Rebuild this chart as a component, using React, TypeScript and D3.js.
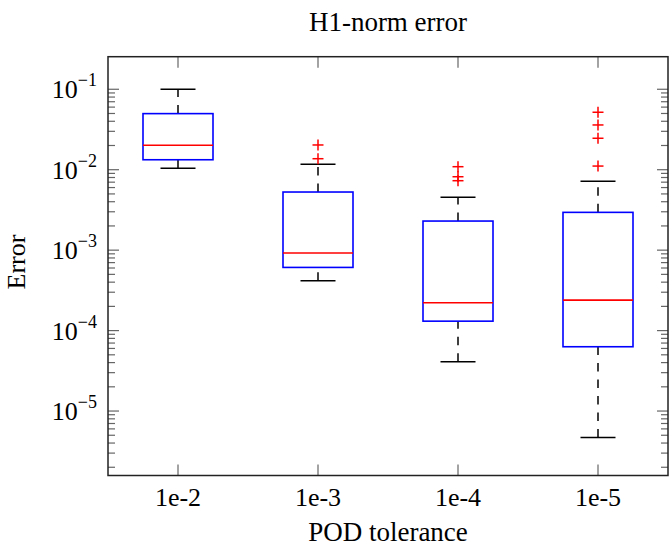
import React from 'react';
import * as d3 from 'd3';

const categories = ['1e-2', '1e-3', '1e-4', '1e-5'];
const lowerWhisker = [0.0104, 4.16e-4, 4.09e-5, 4.7e-6];
const lowerQuartile = [0.0133, 6.1e-4, 1.31e-4, 6.3e-5];
const medians = [0.0201, 9.2e-4, 2.22e-4, 2.39e-4];
const upperQuartile = [0.0498, 5.28e-3, 2.3e-3, 2.95e-3];
const upperWhisker = [0.1, 0.01167, 0.00454, 0.00718];
const outliers1e2: number[] = [];
const outliers1e3 = [0.0203, 0.0137];
const outliers1e4 = [0.0109, 0.00818, 0.0073];
const outliers1e5 = [0.0518, 0.036, 0.0246, 0.0111];
const yTickExponents = [-1, -2, -3, -4, -5];
const yDomain = [1.58e-6, 0.254];

const title = 'H1-norm error';
const xLabel = 'POD tolerance';
const yLabel = 'Error';

const W = 669;
const H = 552;
const M = { left: 108, right: 668, top: 56.7, bottom: 475.5 };
const FONT = '"Liberation Serif", "Times New Roman", serif';

export default function App() {
  const outliers = [outliers1e2, outliers1e3, outliers1e4, outliers1e5];
  const x = d3.scaleBand<string>().domain(categories).range([M.left, M.right]).padding(0);
  const y = d3.scaleLog().domain(yDomain).range([M.bottom, M.top]);
  const bw = x.bandwidth();
  const boxW = bw * 0.5;
  const capW = bw * 0.25;

  const majorTicks = yTickExponents.map((e) => Math.pow(10, e));
  const minorTicks: number[] = [];
  for (let k = -6; k <= -2; k++) {
    for (let m = 2; m <= 9; m++) {
      const v = m * Math.pow(10, k);
      if (v >= yDomain[0] && v <= yDomain[1]) minorTicks.push(v);
    }
  }

  const tickColor = '#666';
  const majorLen = 11;
  const minorLen = 7;

  return (
    <svg width={W} height={H} style={{ position: 'absolute', left: 0, top: 0, background: '#fff' }} fontFamily={FONT}>
      <rect x={0} y={0} width={W} height={H} fill="#fff" />
      {/* ticks */}
      <g stroke={tickColor} strokeWidth={1.2}>
        {minorTicks.map((v, i) => (
          <g key={'mi' + i}>
            <line x1={M.left} x2={M.left + minorLen} y1={y(v)} y2={y(v)} />
            <line x1={M.right} x2={M.right - minorLen} y1={y(v)} y2={y(v)} />
          </g>
        ))}
        {majorTicks.map((v, i) => (
          <g key={'ma' + i}>
            <line x1={M.left} x2={M.left + majorLen} y1={y(v)} y2={y(v)} />
            <line x1={M.right} x2={M.right - majorLen} y1={y(v)} y2={y(v)} />
          </g>
        ))}
        {categories.map((c) => {
          const cx = (x(c) as number) + bw / 2;
          return (
            <g key={'xt' + c}>
              <line x1={cx} x2={cx} y1={M.bottom} y2={M.bottom - majorLen} />
              <line x1={cx} x2={cx} y1={M.top} y2={M.top + majorLen} />
            </g>
          );
        })}
      </g>
      {/* boxes */}
      {categories.map((c, i) => {
        const cx = (x(c) as number) + bw / 2;
        return (
          <g key={'box' + c}>
            <line x1={cx} x2={cx} y1={y(lowerWhisker[i])} y2={y(lowerQuartile[i])} stroke="#000" strokeWidth={1.5} strokeDasharray="8.5,8" />
            <line x1={cx} x2={cx} y1={y(upperQuartile[i])} y2={y(upperWhisker[i])} stroke="#000" strokeWidth={1.5} strokeDasharray="8.5,8" />
            <line x1={cx - capW / 2} x2={cx + capW / 2} y1={y(lowerWhisker[i])} y2={y(lowerWhisker[i])} stroke="#000" strokeWidth={1.5} />
            <line x1={cx - capW / 2} x2={cx + capW / 2} y1={y(upperWhisker[i])} y2={y(upperWhisker[i])} stroke="#000" strokeWidth={1.5} />
            <rect x={cx - boxW / 2} y={y(upperQuartile[i])} width={boxW} height={y(lowerQuartile[i]) - y(upperQuartile[i])} fill="none" stroke="#0000ff" strokeWidth={1.6} />
            <line x1={cx - boxW / 2} x2={cx + boxW / 2} y1={y(medians[i])} y2={y(medians[i])} stroke="#ff0000" strokeWidth={1.6} />
            {outliers[i].map((v, j) => (
              <g key={'o' + j} stroke="#ff0000" strokeWidth={1.5}>
                <line x1={cx - 5.5} x2={cx + 5.5} y1={y(v)} y2={y(v)} />
                <line x1={cx} x2={cx} y1={y(v) - 5.5} y2={y(v) + 5.5} />
              </g>
            ))}
          </g>
        );
      })}
      {/* frame */}
      <rect x={M.left} y={M.top} width={M.right - M.left} height={M.bottom - M.top} fill="none" stroke="#222" strokeWidth={1.5} />
      {/* y tick labels */}
      {yTickExponents.map((e, i) => (
        <text key={'yl' + i} x={97} y={y(majorTicks[i]) + 9} textAnchor="end" fontSize={26} fill="#000">
          10
          <tspan fontSize={18} dy={-12}>{'\u2212' + Math.abs(e)}</tspan>
        </text>
      ))}
      {/* x tick labels */}
      {categories.map((c) => (
        <text key={'xl' + c} x={(x(c) as number) + bw / 2} y={506} textAnchor="middle" fontSize={26} fill="#000">
          {c}
        </text>
      ))}
      <text x={(M.left + M.right) / 2} y={541} textAnchor="middle" fontSize={27} fill="#000">{xLabel}</text>
      <text x={(M.left + M.right) / 2} y={30.5} textAnchor="middle" fontSize={27} fill="#000">{title}</text>
      <text transform={`translate(${25},${262}) rotate(-90)`} textAnchor="middle" fontSize={26} fill="#000">{yLabel}</text>
    </svg>
  );
}
